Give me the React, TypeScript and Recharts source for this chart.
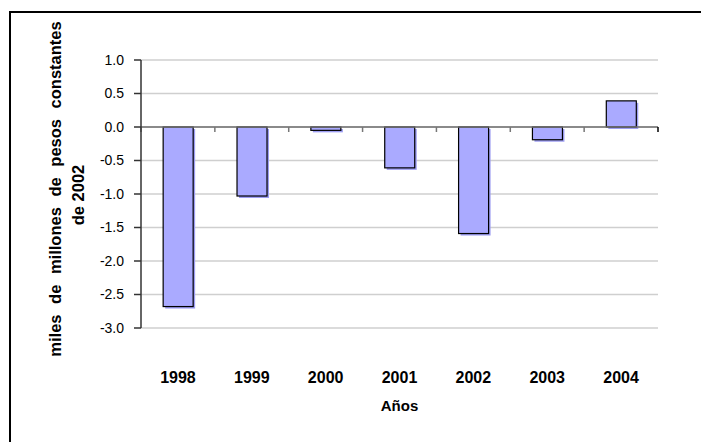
import { Bar, BarChart, CartesianGrid, ReferenceLine, XAxis, YAxis } from 'recharts';

const years = ['1998', '1999', '2000', '2001', '2002', '2003', '2004'];
const values = [-2.68, -1.03, -0.05, -0.61, -1.59, -0.19, 0.39];
const yTicks = [1.0, 0.5, 0.0, -0.5, -1.0, -1.5, -2.0, -2.5, -3.0];

const yTitleLines = ['miles de millones de pesos constantes', 'de 2002'];
const xTitle = 'Años';

const data = years.map((year, i) => ({ year, value: values[i] }));

const FONT = '"Liberation Sans", Arial, sans-serif';

const boldText = (size: number) => ({
  fontFamily: FONT,
  fontSize: size,
  fontWeight: 700,
  fill: '#000',
});

// Bar with a small offset shadow behind it, like the old office charts.
function ShadowBar(props: any) {
  const { x, y, width, height } = props;
  const top = height < 0 ? y + height : y;
  const h = Math.abs(height);
  return (
    <g>
      <rect x={x + 2} y={top + 2} width={width} height={h} fill="#9d9df2" />
      <rect x={x} y={top} width={width} height={h} fill="#aaaaff" stroke="#000" strokeWidth={1.2} />
    </g>
  );
}

// Zero line with small category separators hanging below it.
function ZeroLine(props: any) {
  const { x1, y1, x2, y2 } = props;
  const step = (x2 - x1) / years.length;
  const marks = Array.from({ length: years.length + 1 }, (_, i) => x1 + i * step);
  return (
    <g>
      <line x1={x1} y1={y1} x2={x2} y2={y2} stroke="#6f6f6f" strokeWidth={1.5} />
      {marks.map((mx, i) => (
        <line
          key={i}
          x1={mx}
          y1={y1}
          x2={mx}
          y2={y1 + 5}
          stroke={i === years.length ? '#000' : '#777'}
          strokeWidth={1.5}
        />
      ))}
    </g>
  );
}

function YearTick(props: any) {
  const { x, y, payload } = props;
  return (
    <text x={x} y={y + 55} textAnchor="middle" style={boldText(16)}>
      {payload.value}
    </text>
  );
}

function YTitle(props: any) {
  const { viewBox } = props;
  const cy = viewBox.y + viewBox.height / 2;
  return (
    <g>
      <text
        transform={`translate(61, ${cy - 5}) rotate(-90)`}
        textAnchor="middle"
        style={{ ...boldText(16.5), wordSpacing: 6 }}
      >
        {yTitleLines[0]}
      </text>
      <text transform={`translate(84, ${cy + 1}) rotate(-90)`} textAnchor="middle" style={boldText(16.5)}>
        {yTitleLines[1]}
      </text>
    </g>
  );
}

function XTitle(props: any) {
  const { viewBox } = props;
  return (
    <text x={viewBox.x + viewBox.width / 2} y={viewBox.y + 83} textAnchor="middle" style={boldText(15)}>
      {xTitle}
    </text>
  );
}

export default function App() {
  return (
    <div
      style={{
        position: 'fixed',
        left: 0,
        top: 0,
        width: 701,
        height: 442,
        overflow: 'hidden',
        background: '#fff',
      }}
    >
      <div
        style={{
          position: 'absolute',
          left: 9,
          top: 11,
          width: 800,
          height: 600,
          borderTop: '2px solid #000',
          borderLeft: '2px solid #000',
        }}
      />
      <div style={{ position: 'absolute', left: 0, top: 0 }}>
        <BarChart
          width={701}
          height={442}
          data={data}
          margin={{ top: 60, right: 43, bottom: 0, left: 0 }}
          barCategoryGap="30%"
        >
          <CartesianGrid vertical={false} stroke="#cfcfcf" strokeWidth={1.5} />
          <XAxis
            dataKey="year"
            height={114}
            axisLine={false}
            tickLine={false}
            tickSize={0}
            tickMargin={0}
            tick={<YearTick />}
            interval={0}
            label={(p: any) => <XTitle {...p} />}
          />
          <YAxis
            width={141}
            domain={[-3, 1]}
            ticks={yTicks}
            interval={0}
            tickFormatter={(v: number) => v.toFixed(1)}
            axisLine={{ stroke: '#333', strokeWidth: 1.5 }}
            tickLine={{ stroke: '#333', strokeWidth: 1.5 }}
            tickSize={7}
            tickMargin={10}
            tick={{ fontFamily: FONT, fontSize: 14, fill: '#000' }}
            label={(p: any) => <YTitle {...p} />}
          />
          <YAxis
            yAxisId="r"
            orientation="right"
            width={0}
            domain={[-3, 1]}
            ticks={yTicks}
            tick={false}
            tickLine={false}
            axisLine={{ stroke: '#999', strokeWidth: 1.5 }}
          />
          <Bar dataKey="value" shape={<ShadowBar />} isAnimationActive={false} />
          <ReferenceLine y={0} shape={<ZeroLine />} />
        </BarChart>
      </div>
    </div>
  );
}
